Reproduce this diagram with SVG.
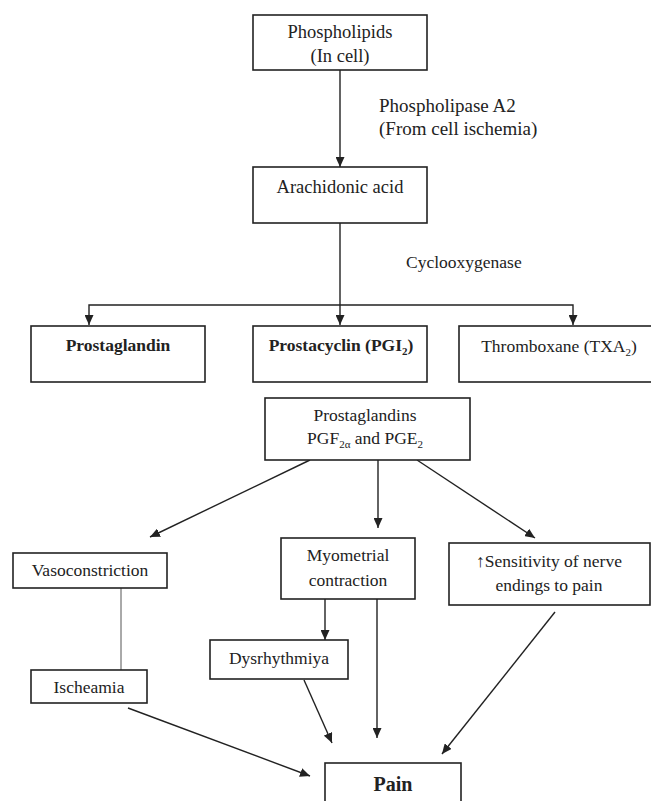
<svg xmlns="http://www.w3.org/2000/svg" width="651" height="801" viewBox="0 0 651 801">
<style>
.box{fill:#fff;stroke:#222;stroke-width:1.6}
.t{font-family:"Liberation Serif","Times New Roman",serif;font-size:17.5px;fill:#222;text-anchor:middle}
.top{font-size:18.5px}
.l{text-anchor:start}
.b{font-weight:bold}
.c{fill:none;stroke:#222;stroke-width:1.4}
.thin{fill:none;stroke:#555;stroke-width:1}
</style>
<defs>
<marker id="ah" markerUnits="userSpaceOnUse" markerWidth="10" markerHeight="9" refX="10" refY="4.5" orient="auto">
<path d="M0,0 L10,4.5 L0,9 z" fill="#222"/>
</marker>
</defs>
<rect width="651" height="801" fill="#fff"/>
<g id="connectors">
<path class="c" d="M340,70 V167" marker-end="url(#ah)"/>
<path class="c" d="M340,223 V325" marker-end="url(#ah)"/>
<path class="c" d="M340,305 H89 V325" marker-end="url(#ah)"/>
<path class="c" d="M340,305 H573 V325" marker-end="url(#ah)"/>
<path class="c" d="M310,460 L150,537" marker-end="url(#ah)"/>
<path class="c" d="M378,460 V528" marker-end="url(#ah)"/>
<path class="c" d="M417,460 L535,538" marker-end="url(#ah)"/>
<path class="thin" d="M121,588 V670"/>
<path class="c" d="M325,599 V640" marker-end="url(#ah)"/>
<path class="c" d="M377,599 V738" marker-end="url(#ah)"/>
<path class="c" d="M304,680 L332,743" marker-end="url(#ah)"/>
<path class="c" d="M128,708 L310,776" marker-end="url(#ah)"/>
<path class="c" d="M555,612 L442,754" marker-end="url(#ah)"/>
<text class="t l" x="379" y="112" style="font-size:19px">Phospholipase A2</text>
<text class="t l" x="379" y="135" style="font-size:19px">(From cell ischemia)</text>
<text class="t l" x="406" y="268">Cyclooxygenase</text>
</g>
<g id="phospholipids">
<rect class="box" x="253" y="15" width="174" height="55"/>
<text class="t top" x="340" y="38">Phospholipids</text>
<text class="t top" x="340" y="62">(In cell)</text>
</g>
<g id="arachidonic">
<rect class="box" x="253" y="167" width="174" height="56"/>
<text class="t top" x="340" y="193">Arachidonic acid</text>
</g>
<g id="prostaglandin">
<rect class="box" x="31" y="326" width="174" height="56"/>
<text class="t b" x="118" y="351">Prostaglandin</text>
</g>
<g id="prostacyclin">
<rect class="box" x="253" y="326" width="174" height="56"/>
<text class="t b" x="341" y="351">Prostacyclin (PGI<tspan font-size="11" dy="4">2</tspan><tspan dy="-4">)</tspan></text>
</g>
<g id="thromboxane">
<rect class="box" x="459" y="326" width="200" height="56"/>
<text class="t" x="559" y="352">Thromboxane (TXA<tspan font-size="11" dy="4">2</tspan><tspan dy="-4">)</tspan></text>
</g>
<g id="prostaglandins">
<rect class="box" x="265" y="398" width="205" height="62"/>
<text class="t" x="365" y="421">Prostaglandins</text>
<text class="t" x="365" y="444">PGF<tspan font-size="11" dy="4">2α</tspan><tspan dy="-4"> and PGE</tspan><tspan font-size="11" dy="4">2</tspan></text>
</g>
<g id="vasoconstriction">
<rect class="box" x="13" y="553" width="154" height="35"/>
<text class="t" x="90" y="576">Vasoconstriction</text>
</g>
<g id="myometrial">
<rect class="box" x="281" y="538" width="134" height="61"/>
<text class="t" x="348" y="561">Myometrial</text>
<text class="t" x="348" y="586">contraction</text>
</g>
<g id="sensitivity">
<rect class="box" x="449" y="543" width="201" height="62"/>
<text class="t" x="549" y="567">↑Sensitivity of nerve</text>
<text class="t" x="549" y="591">endings to pain</text>
</g>
<g id="dysrhythmiya">
<rect class="box" x="210" y="640" width="138" height="39"/>
<text class="t" x="279" y="664">Dysrhythmiya</text>
</g>
<g id="ischeamia">
<rect class="box" x="31" y="670" width="116" height="33"/>
<text class="t" x="89" y="693">Ischeamia</text>
</g>
<g id="pain">
<rect class="box" x="325" y="763" width="136" height="50"/>
<text class="t b" x="393" y="791" style="font-size:20px">Pain</text>
</g>
</svg>
